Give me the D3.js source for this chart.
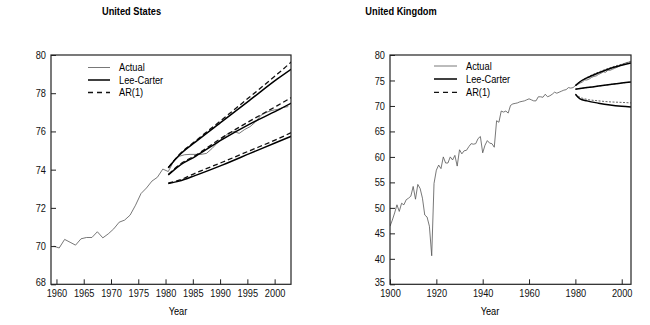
<!DOCTYPE html>
<html>
<head>
<meta charset="utf-8">
<script src="https://cdn.jsdelivr.net/npm/d3@7"></script>
<style>
  body { margin: 0; background: #fff; }
  svg { font-family: "Liberation Sans", Arial, sans-serif; }
  .axis text { font-size: 11px; fill: #111; }
  .axis path, .axis line { stroke: #222; }
</style>
</head>
<body>
<div id="chart"></div>
<script>
// ---- data ----
// United States (plotted at mid-year)
const usYears = d3.range(1959, 2003)
const usActual = [70.0, 69.9, 70.35, 70.2, 70.05, 70.38, 70.45, 70.45, 70.75, 70.43,
  70.64, 70.9, 71.25, 71.36, 71.62, 72.14, 72.75, 73.04, 73.4, 73.6,
  74.03, 73.9, 74.45, 74.7, 74.78, 74.8, 74.8, 74.8, 74.85, 75.1,
  75.4, 75.65, 75.9, 76.0, 75.9, 76.1, 76.25, 76.5, 76.85, 77.0,
  77.1, 77.15, 77.25, 77.3]
const usFcYears = [1980, 1982, 1985, 1990, 1995, 2000, 2003]
const usLcUpper = [74.1, 74.75, 75.45, 76.55, 77.65, 78.75, 79.35]
const usArUpper = [74.1, 74.78, 75.5, 76.65, 77.82, 79.0, 79.75]
const usLcMid   = [73.72, 74.2, 74.7, 75.6, 76.4, 77.1, 77.55]
const usArMid   = [73.75, 74.25, 74.75, 75.7, 76.55, 77.35, 77.85]
const usLcLower = [73.28, 73.4, 73.7, 74.25, 74.85, 75.45, 75.8]
const usArLower = [73.3, 73.45, 73.82, 74.4, 75.0, 75.6, 76.0]
const usXTicks = [1960, 1965, 1970, 1975, 1980, 1985, 1990, 1995, 2000]
const usYTicks = [68, 70, 72, 74, 76, 78, 80]

// United Kingdom
const ukYears = d3.range(1900, 2005)
const ukActual = [46.4, 47.6, 49.0, 50.6, 49.3, 50.9, 50.6, 51.6, 51.9, 52.3,
  54.2, 51.7, 54.6, 53.8, 51.9, 48.6, 48.2, 46.4, 40.6, 54.8,
  57.4, 58.4, 57.7, 60.0, 58.8, 58.8, 60.0, 59.4, 60.3, 58.2,
  61.4, 60.6, 61.2, 61.3, 62.0, 62.6, 62.5, 62.6, 63.6, 64.0,
  60.8, 62.3, 63.2, 62.7, 62.6, 61.9, 67.1, 66.8, 69.0, 68.8,
  69.0, 68.6, 70.1, 70.4, 70.5, 70.6, 70.8, 70.9, 71.0, 71.2,
  71.4, 71.2, 71.0, 71.0, 71.8, 71.8, 71.7, 72.3, 71.8, 72.0,
  72.3, 72.7, 72.5, 72.7, 72.9, 73.1, 73.2, 73.6, 73.5, 73.6,
  74.0, 74.2, 74.5, 74.7, 75.1, 75.1, 75.3, 75.6, 75.8, 75.9,
  76.2, 76.4, 76.7, 76.6, 77.0, 77.0, 77.2, 77.4, 77.6, 77.8,
  78.1, 78.3, 78.5, 78.6, 78.8]
const ukFcYears = [1980, 1982, 1985, 1990, 1995, 2000, 2004]
const ukLcUpper = [74.0, 74.75, 75.5, 76.5, 77.35, 78.0, 78.45]
const ukArUpper = [74.0, 74.8, 75.6, 76.65, 77.5, 78.2, 78.7]
const ukLcMid   = [73.3, 73.42, 73.6, 73.9, 74.2, 74.5, 74.7]
const ukArMid   = [73.3, 73.42, 73.6, 73.9, 74.2, 74.5, 74.7]
const ukLcLower = [72.3, 71.4, 71.0, 70.55, 70.2, 69.95, 69.8]
const ukArLower = [72.3, 71.7, 71.3, 71.0, 70.8, 70.7, 70.6]
const ukXTicks = [1900, 1920, 1940, 1960, 1980, 2000]
const ukYTicks = [35, 40, 45, 50, 55, 60, 65, 70, 75, 80]

const legendLabels = ['Actual', 'Lee-Carter', 'AR(1)']

// ---- drawing ----
const W = 650, H = 325
const svg = d3.select('#chart').append('svg').attr('width', W).attr('height', H)

const zip = (xs, ys) => xs.map((x, i) => ({year: x, value: ys[i]}))

let panels = [
  {
    id: 'us', title: 'United States', titleX: 131.5, yearX: 178,
    left: 51, right: 291, top: 55, bottom: 284.3,
    xDomain: [1959, 2003], yDomain: [68, 80], shift: 0.5,
    xTicks: usXTicks, yTicks: usYTicks,
    actual: zip(usYears, usActual),
    lc: [usLcUpper, usLcMid, usLcLower].map(v => zip(usFcYears, v)),
    ar: [usArUpper, usArMid, usArLower].map(v => zip(usFcYears, v)),
    arStyle: {dash: '5,3', width: 1.3, color: '#111'},
    legend: {x1: 88, x2: 110, tx: 119, ys: [67.5, 80, 92.5]}
  },
  {
    id: 'uk', title: 'United Kingdom', titleX: 401, yearX: 490,
    left: 390, right: 631, top: 55, bottom: 284.3,
    xDomain: [1900, 2004], yDomain: [35, 80], shift: 0,
    xTicks: ukXTicks, yTicks: ukYTicks,
    actual: zip(ukYears, ukActual),
    lc: [ukLcUpper, ukLcMid, ukLcLower].map(v => zip(ukFcYears, v)),
    ar: [ukArUpper, ukArMid, ukArLower].map(v => zip(ukFcYears, v)),
    arStyle: {dash: '2,1.5', width: 1, color: '#666'},
    legend: {x1: 434, x2: 457, tx: 466, ys: [66, 79, 92.3]}
  }
]

panels.forEach(p => {
  let x = d3.scaleLinear().domain(p.xDomain).range([p.left, p.right])
  let y = d3.scaleLinear().domain(p.yDomain).range([p.bottom, p.top])
  let g = svg.append('g')

  g.append('clipPath').attr('id', 'clip-' + p.id)
    .append('rect')
    .attr('x', p.left).attr('y', p.top)
    .attr('width', p.right - p.left).attr('height', p.bottom - p.top)

  let line = d3.line()
    .x(d => x(d.year + p.shift))
    .y(d => y(d.value))
  let smooth = d3.line()
    .x(d => x(d.year + p.shift))
    .y(d => y(d.value))
    .curve(d3.curveMonotoneX)

  let plot = g.append('g').attr('clip-path', 'url(#clip-' + p.id + ')')

  plot.append('path').datum(p.actual)
    .attr('d', line)
    .attr('fill', 'none').attr('stroke', '#555').attr('stroke-width', 0.8)

  p.ar.forEach(s => {
    plot.append('path').datum(s)
      .attr('d', smooth)
      .attr('fill', 'none')
      .attr('stroke', p.arStyle.color)
      .attr('stroke-width', p.arStyle.width)
      .attr('stroke-dasharray', p.arStyle.dash)
  })
  p.lc.forEach(s => {
    plot.append('path').datum(s)
      .attr('d', smooth)
      .attr('fill', 'none').attr('stroke', '#000').attr('stroke-width', 1.5)
  })

  // axes with inward ticks
  let xAxis = d3.axisBottom(x).tickValues(p.xTicks).tickFormat(d3.format('d'))
    .tickSizeInner(-5).tickSizeOuter(0).tickPadding(5)
  let yAxis = d3.axisLeft(y).tickValues(p.yTicks).tickFormat(d3.format('d'))
    .tickSizeInner(-5).tickSizeOuter(0).tickPadding(5)

  g.append('g').attr('class', 'axis')
    .attr('transform', 'translate(0,' + p.bottom + ')')
    .call(xAxis)
    .call(a => a.select('.domain').remove())
  g.append('g').attr('class', 'axis')
    .attr('transform', 'translate(' + p.left + ',0)')
    .call(yAxis)
    .call(a => a.select('.domain').remove())
    // lowest label sits a little higher, clear of the year labels
    .call(a => a.selectAll('.tick text').filter(d => d === p.yDomain[0]).attr('dy', '0.1em'))

  // frame
  g.append('rect')
    .attr('x', p.left).attr('y', p.top)
    .attr('width', p.right - p.left).attr('height', p.bottom - p.top)
    .attr('fill', 'none').attr('stroke', '#222').attr('stroke-width', 1.2)

  g.append('text')
    .attr('x', p.titleX).attr('y', 15)
    .attr('text-anchor', 'middle')
    .attr('font-size', '11px').attr('font-weight', 'bold')
    .text(p.title)

  g.append('text')
    .attr('x', p.yearX).attr('y', 315)
    .attr('text-anchor', 'middle')
    .attr('font-size', '11px')
    .text('Year')

  // legend
  let lg = p.legend
  let styles = [
    {color: '#555', width: 0.8, dash: null},
    {color: '#000', width: 1.5, dash: null},
    {color: '#111', width: 1.3, dash: '5,4'}
  ]
  legendLabels.forEach((lab, i) => {
    g.append('line')
      .attr('x1', lg.x1).attr('x2', lg.x2)
      .attr('y1', lg.ys[i]).attr('y2', lg.ys[i])
      .attr('stroke', styles[i].color)
      .attr('stroke-width', styles[i].width)
      .attr('stroke-dasharray', styles[i].dash)
    g.append('text')
      .attr('x', lg.tx).attr('y', lg.ys[i])
      .attr('dy', '0.35em')
      .attr('font-size', '11px')
      .text(lab)
  })
})

// the original uses a narrow sans face; squeeze every label to match
svg.selectAll('text').each(function() {
  let w = this.getComputedTextLength()
  d3.select(this).attr('textLength', w * 0.84).attr('lengthAdjust', 'spacingAndGlyphs')
})
</script>
</body>
</html>
